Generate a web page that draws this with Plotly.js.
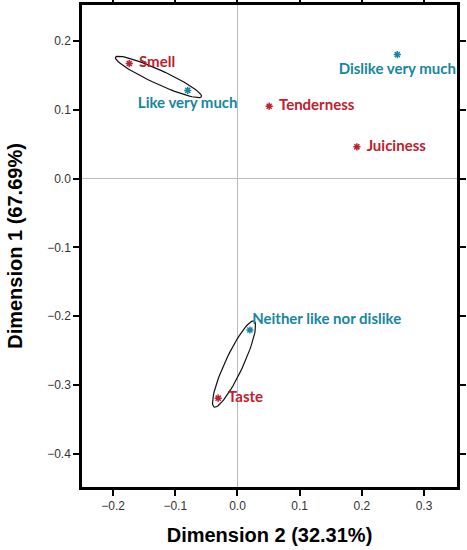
<!DOCTYPE html>
<html>
<head>
<meta charset="utf-8">
<script src="https://cdn.plot.ly/plotly-3.0.1.min.js"></script>
<style>
  body { margin: 0; background: #fff; }
  #chart { width: 467px; height: 550px; }
</style>
</head>
<body>
<div id="chart"></div>
<script>
// attributes (red) and preference levels (teal)
const attrNames = ['Smell', 'Tenderness', 'Juiciness', 'Taste'];
const attrDim2 = [-0.174, 0.051, 0.192, -0.031];
const attrDim1 = [0.167, 0.105, 0.046, -0.319];
const attrTextPos = ['middle right', 'middle right', 'middle right', 'middle right'];

const prefNames = ['Like very much', 'Dislike very much', 'Neither like nor dislike'];
const prefDim2 = [-0.080, 0.257, 0.020];
const prefDim1 = [0.128, 0.180, -0.220];
const prefTextPos = ['bottom center', 'bottom center', 'top right'];

// ellipses drawn around pairs [attribute, preference]
const ellipsePairs = [['Smell', 'Like very much'], ['Taste', 'Neither like nor dislike']];

const xRange = [-0.25, 0.353];
const yRange = [-0.448, 0.252];
const W = 467, H = 550;
const margin = { l: 82, r: 10, t: 5, b: 63 };

const red = '#c0202e';
const teal = '#17869f';

function findPoint(name) {
    let i = attrNames.indexOf(name);
    if (i >= 0) return [attrDim2[i], attrDim1[i]];
    i = prefNames.indexOf(name);
    return [prefDim2[i], prefDim1[i]];
}

// pixel scale so the ellipse keeps its shape on screen
const sx = (W - margin.l - margin.r) / (xRange[1] - xRange[0]);
const sy = (H - margin.t - margin.b) / (yRange[1] - yRange[0]);
const ellipseStretch = [1.47, 1.26];
const ellipseMinorPx = [7, 9];

function ellipseTrace(pair, k) {
    const a = findPoint(pair[0]);
    const b = findPoint(pair[1]);
    const cx = (a[0] + b[0]) / 2, cy = (a[1] + b[1]) / 2;
    const dx = (b[0] - a[0]) * sx, dy = (b[1] - a[1]) * sy;
    const half = Math.sqrt(dx * dx + dy * dy) / 2;
    const ang = Math.atan2(dy, dx);
    const major = half * ellipseStretch[k];
    const minor = ellipseMinorPx[k];
    const xs = [], ys = [];
    for (let t = 0; t <= 72; t++) {
        const th = t / 72 * 2 * Math.PI;
        const u = major * Math.cos(th), v = minor * Math.sin(th);
        xs.push(cx + (u * Math.cos(ang) - v * Math.sin(ang)) / sx);
        ys.push(cy + (u * Math.sin(ang) + v * Math.cos(ang)) / sy);
    }
    return {
        x: xs, y: ys, type: 'scatter', mode: 'lines',
        line: { color: '#111', width: 1.2 },
        hoverinfo: 'skip', showlegend: false
    };
}

const labelFont = { family: 'Lato, "Liberation Sans", Arial, sans-serif', size: 15, weight: 'bold' };

function starTrace(xs, ys, color) {
    return {
        x: xs, y: ys, type: 'scatter', mode: 'markers',
        marker: { symbol: 'asterisk-open', size: 6, color: color, line: { color: color, width: 1.5 } },
        showlegend: false
    };
}

// labels sit on invisible bigger markers so they keep a gap from the star
function labelTrace(xs, ys, names, pos, color, gap) {
    return {
        x: xs, y: ys, text: names, type: 'scatter', mode: 'markers+text',
        textposition: pos,
        textfont: Object.assign({ color: color }, labelFont),
        marker: { size: gap, opacity: 0 },
        hoverinfo: 'skip', showlegend: false
    };
}

var data = ellipsePairs.map(ellipseTrace);
data.push(starTrace(attrDim2, attrDim1, red));
data.push(starTrace(prefDim2, prefDim1, teal));
data.push(labelTrace(attrDim2, attrDim1, attrNames, attrTextPos, red, 14));
data.push(labelTrace(prefDim2, prefDim1, prefNames, prefTextPos, teal, [8, 12, 2]));

const tickFont = { family: 'Arial, "Liberation Sans", sans-serif', size: 12, color: '#333' };

var layout = {
    width: W,
    height: H,
    margin: margin,
    paper_bgcolor: '#fff',
    plot_bgcolor: '#fff',
    showlegend: false,
    xaxis: {
        range: xRange,
        dtick: 0.1, tick0: 0, tickformat: '.1f',
        ticks: 'outside', ticklen: 6, tickwidth: 1.5, tickcolor: '#000',
        showline: true, linecolor: '#000', linewidth: 2.5, mirror: 'ticks',
        showgrid: false,
        zeroline: true, zerolinecolor: '#bbb', zerolinewidth: 1,
        tickfont: tickFont,
        title: { text: '<b>Dimension 2 (32.31%)</b>', font: { family: 'Arial, "Liberation Sans", sans-serif', size: 20, color: '#000' }, standoff: 16 }
    },
    yaxis: {
        range: yRange,
        dtick: 0.1, tick0: 0, tickformat: '.1f',
        ticks: 'outside', ticklen: 6, tickwidth: 1.5, tickcolor: '#000',
        showline: true, linecolor: '#000', linewidth: 2.5, mirror: 'ticks',
        showgrid: false,
        zeroline: true, zerolinecolor: '#bbb', zerolinewidth: 1,
        tickfont: tickFont,
        title: { text: '<b>Dimension 1 (67.69%)</b>', font: { family: 'Arial, "Liberation Sans", sans-serif', size: 20, color: '#000' }, standoff: 20 }
    }
};

Plotly.newPlot('chart', data, layout, { displayModeBar: false });
</script>
</body>
</html>
